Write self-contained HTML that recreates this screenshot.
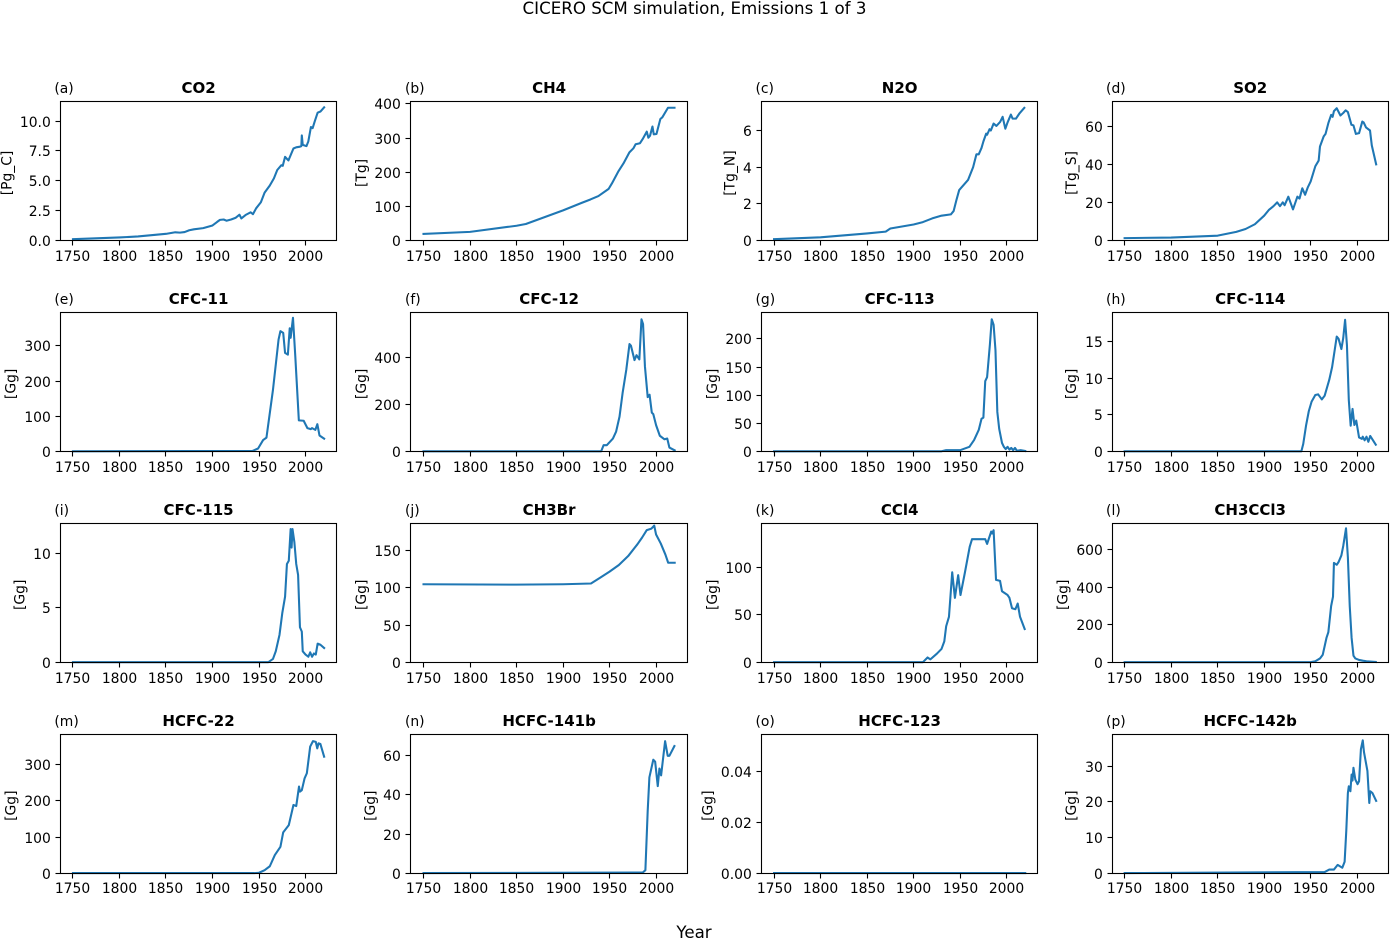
<!DOCTYPE html>
<html lang="en">
<head>
<meta charset="utf-8">
<title>CICERO SCM simulation, Emissions 1 of 3</title>
<style>
html,body{margin:0;padding:0;background:#fff;}
body{width:1390px;height:938px;overflow:hidden;}
svg{display:block;}
text{font-family:"DejaVu Sans","Liberation Sans",sans-serif;fill:#000;}
</style>
</head>
<body>
<svg id="figure" xmlns="http://www.w3.org/2000/svg" width="1390" height="938" viewBox="0 0 1390 938">
  <text x="694.5" y="14" text-anchor="middle" font-size="16.67">CICERO SCM simulation, Emissions 1 of 3</text>
  <text x="694" y="938" text-anchor="middle" font-size="16.67">Year</text>
</svg>
<script>
const xTickLabels = ["1750","1800","1850","1900","1950","2000"];

const co2Years = [1750,1800,1820,1840,1850,1860,1865,1870,1875,1880,1890,1900,1905,1908,1912,1915,1920,1925,1929,1931,1936,1941,1943.5,1947,1950,1952,1956,1961.6,1966,1969.6,1974,1975.5,1978,1981.6,1987,1990,1994,1995.5,1996,1997,2001,2003,2005.8,2007.6,2010,2013,2016,2020];
const co2Values = [0.1,0.25,0.33,0.48,0.55,0.68,0.65,0.7,0.85,0.93,1.03,1.25,1.55,1.72,1.75,1.65,1.75,1.9,2.15,1.84,2.15,2.35,2.2,2.7,3.0,3.2,4.0,4.6,5.2,5.9,6.3,6.25,7.0,6.7,7.7,7.8,7.85,7.9,8.8,8.0,7.9,8.3,9.5,9.4,10.0,10.7,10.8,11.15];
const ch4Years = [1750,1800,1850,1860,1900,1920,1929.4,1938,1949,1952.5,1959.6,1965,1971.3,1975.6,1978,1982.7,1986,1990,1991.7,1993.5,1996.1,1997.5,2000.4,2004.6,2006.7,2012.8,2019.8];
const ch4Values = [19,25,43,48,88,110,120,130,151,167,203,226,258,270,282,285,299,319,301,307,334,311,312,356,361,389,389];
const n2oYears = [1750,1800,1850,1870,1875,1900,1910,1920,1930,1940,1943,1946,1949,1958.5,1964,1967.5,1970,1973,1975,1978,1979,1981.6,1983,1986,1989,1993,1995.7,1998.6,2001,2004.6,2006.4,2010,2014,2019];
const n2oValues = [0.07,0.17,0.38,0.48,0.65,0.87,1.0,1.2,1.35,1.42,1.6,2.2,2.75,3.3,4.0,4.7,4.7,5.05,5.4,5.83,5.77,6.07,6.0,6.38,6.25,6.47,6.75,6.1,6.45,6.87,6.65,6.65,6.95,7.24];
const so2Years = [1750,1800,1850,1870,1880,1890,1900,1905,1910,1914,1917,1920,1922,1926,1931,1935.7,1938,1941,1944,1947,1950,1955,1958.6,1960,1964,1966,1969,1972,1973.6,1975,1978,1982,1985,1987.6,1990,1993.8,1996,1998.6,2002,2005.5,2007,2009.5,2013.8,2015.7,2020.4];
const so2Values = [1.2,1.5,2.5,4.5,6,8.5,13,16,18,20,18,20,18.5,23,16.3,23,22,27.4,24,28,31,39,42,49.4,54.7,56,61.7,66,65,68,69.5,65.7,67,68.4,67.5,60.8,60.5,56,56.4,62.5,62,59.4,57.8,50,40];
const cfc11Years = [1750,1943,1949,1954.4,1958,1965,1971,1973,1976,1978,1981,1983,1984,1986.5,1989,1992.8,1998,2002,2005.6,2007,2010.5,2012.7,2015,2020];
const cfc11Values = [0,1,8,32,39,175,318,342,337,280,275,350,323,380,270,88,87,66,63,66,61,77,45,36];
const cfc12Years = [1750,1941,1943.6,1947,1953.6,1957,1960.7,1964,1968,1971.4,1973,1976.8,1979,1982,1984.3,1986,1988,1991,1993,1995.4,1997,2000,2004,2009,2012,2014.3,2020];
const cfc12Values = [0,0,26,26,54,83,147,247,347,455,448,387,408,390,560,540,361,230,240,164,158,111,66,51,54,16,4];
const cfc113Years = [1750,1930,1935,1950,1960,1965,1970,1973,1975,1977,1979,1982,1984,1986,1988,1990,1992,1995,1997,1999,2001,2003,2005,2007,2009,2011,2015,2020];
const cfc113Values = [0,0,2,2,8,20,38,58,60,125,132,190,235,225,180,70,40,15,8,4,8,3,6,2,6,1,2,0.5];
const cfc114Years = [1750,1940,1942,1945,1948,1951,1955,1958,1962,1965,1970,1973,1976,1978,1980,1983,1985,1987,1989,1991,1993,1995,1997,1999,2002,2005,2006,2008,2010,2012,2014,2017,2020];
const cfc114Values = [0,0,1,3.5,5.5,6.8,7.7,7.8,7.1,7.6,9.8,11.5,14,15.7,15.4,14,15.5,18,14.5,7,3.5,5.8,3.6,4.2,1.9,1.7,2,1.5,2,1.3,2.1,1.5,0.9];
const cfc115Years = [1750,1960,1965,1968,1972,1975,1978,1980,1982,1984,1985,1986,1988,1990,1992,1994,1996,1997,2000,2003,2005,2007,2009,2011,2013,2016,2020];
const cfc115Values = [0,0,0.3,1,2.5,4.5,6,9,9.3,12.2,10.5,12.2,11,9,8,3.2,2.8,1,0.7,0.5,0.9,0.5,0.8,0.7,1.7,1.6,1.3];
const ch3brYears = [1750,1850,1900,1930,1940,1950,1960,1970,1980,1985,1990,1995,1998,2000,2005,2010,2013,2020];
const ch3brValues = [105,104.5,105,106,114,122,131,143,159,168,178,180,184,172,160,145,134,134];
const ccl4Years = [1750,1910,1915,1918,1925,1930,1933,1935,1938,1941.5,1944.4,1947.9,1950.4,1955,1960.3,1962.8,1977,1979,1983.4,1984.5,1986,1988.6,1992.9,1995,2001,2003,2005.8,2009.4,2011.9,2014.4,2019.4];
const ccl4Values = [0,0,5,3,9,14,22,38,48,95,68,92,71,94,122,130,130,125,138,136,139.5,87,86,75,71,68,57,56,62,48,35];
const ch3ccl3Years = [1750,1950,1955,1960,1963,1967,1969,1972,1974,1975,1978,1980,1983,1985,1988,1990,1992,1994,1996,1998,2002,2006,2010,2020];
const ch3ccl3Values = [0,0,5,20,40,130,160,300,350,530,520,535,570,620,715,560,300,130,35,20,12,8,5,1];
const hcfc22Years = [1750,1945,1950,1956,1961.6,1967,1973,1976,1982,1987,1990,1993,1994,1996,1999,2001.4,2005,2008,2011,2012.6,2014,2016,2020];
const hcfc22Values = [0,0,1,8,19,50,73,113,133,189,186,240,226,230,263,277,351,366,364,346,360,358,323];
const hcfc141bYears = [1750,1985.7,1988.5,1991,1992.8,1997,1999,2001.8,2003.6,2005.4,2009.7,2012.5,2014.3,2019.7];
const hcfc141bValues = [0,0.3,1.5,32,49,58,57,44.5,53.5,50,67.5,60,60,65];
const hcfc123Years = [1750,2020];
const hcfc123Values = [0,0];
const hcfc142bYears = [1750,1965,1970,1975,1979,1984,1986.5,1988.3,1990,1991,1992.7,1994,1995,1996,1998,2000.4,2002,2004,2006,2007.3,2011,2013,2014,2016.4,2020.4];
const hcfc142bValues = [0,0.3,1,1,2.3,1.5,3.2,12,22.5,24.4,23,27.7,26,29.6,26.3,25,25.8,34.8,37.3,34,28.7,19.7,23,22.5,20.3];

const co2Ticks = ["0.0","2.5","5.0","7.5","10.0"];
const ch4Ticks = ["0","100","200","300","400"];
const n2oTicks = ["0","2","4","6"];
const so2Ticks = ["0","20","40","60"];
const cfc11Ticks = ["0","100","200","300"];
const cfc12Ticks = ["0","200","400"];
const cfc113Ticks = ["0","50","100","150","200"];
const cfc114Ticks = ["0","5","10","15"];
const cfc115Ticks = ["0","5","10"];
const ch3brTicks = ["0","50","100","150"];
const ccl4Ticks = ["0","50","100"];
const ch3ccl3Ticks = ["0","200","400","600"];
const hcfc22Ticks = ["0","100","200","300"];
const hcfc141bTicks = ["0","20","40","60"];
const hcfc123Ticks = ["0.00","0.02","0.04"];
const hcfc142bTicks = ["0","10","20","30"];

const panelLetters = ["(a)","(b)","(c)","(d)","(e)","(f)","(g)","(h)","(i)","(j)","(k)","(l)","(m)","(n)","(o)","(p)"];
const panelTitles = ["CO2","CH4","N2O","SO2","CFC-11","CFC-12","CFC-113","CFC-114","CFC-115","CH3Br","CCl4","CH3CCl3","HCFC-22","HCFC-141b","HCFC-123","HCFC-142b"];
const panelUnits = ["[Pg_C]","[Tg]","[Tg_N]","[Tg_S]","[Gg]","[Gg]","[Gg]","[Gg]","[Gg]","[Gg]","[Gg]","[Gg]","[Gg]","[Gg]","[Gg]","[Gg]"];
const panelYMax = [11.63,407,7.58,73,395,589,247,19,12.72,187,146.7,741,385,71,0.0548,39];
const panelYears = [co2Years,ch4Years,n2oYears,so2Years,cfc11Years,cfc12Years,cfc113Years,cfc114Years,cfc115Years,ch3brYears,ccl4Years,ch3ccl3Years,hcfc22Years,hcfc141bYears,hcfc123Years,hcfc142bYears];
const panelValues = [co2Values,ch4Values,n2oValues,so2Values,cfc11Values,cfc12Values,cfc113Values,cfc114Values,cfc115Values,ch3brValues,ccl4Values,ch3ccl3Values,hcfc22Values,hcfc141bValues,hcfc123Values,hcfc142bValues];
const panelTicks = [co2Ticks,ch4Ticks,n2oTicks,so2Ticks,cfc11Ticks,cfc12Ticks,cfc113Ticks,cfc114Ticks,cfc115Ticks,ch3brTicks,ccl4Ticks,ch3ccl3Ticks,hcfc22Ticks,hcfc141bTicks,hcfc123Ticks,hcfc142bTicks];

const NS = "http://www.w3.org/2000/svg";
const figure = document.getElementById("figure");
const AXES_WIDTH = 276.3;
const AXES_HEIGHT = 138.8;
const X_MIN = 1736.5;
const X_MAX = 2033.5;

function axesLeft(col){ return 60.4 + col * 350.55; }
function axesTop(row){ return 101.6 + row * 210.9; }
function snap(v){ return Math.floor(v) + 0.5; }
function makeXScale(left){ return function(year){ return left + (year - X_MIN) / (X_MAX - X_MIN) * AXES_WIDTH; }; }
function makeYScale(top, yMax){ return function(value){ return top + AXES_HEIGHT - value / yMax * AXES_HEIGHT; }; }
function tickLabelWidth(label){
  let w = 0;
  for (const ch of label) { w += ch === "." ? 4.42 : 8.84; }
  return w;
}
function svgEl(tag, parent){
  const el = document.createElementNS(NS, tag);
  parent.appendChild(el);
  return el;
}
function setAttrs(el, attrs){
  for (const k in attrs) { el.setAttribute(k, attrs[k]); }
}

panelTitles.forEach(function(title, i){
  const slug = title.toLowerCase();
  const col = i % 4;
  const row = Math.floor(i / 4);
  const left = axesLeft(col);
  const top = axesTop(row);
  const bottom = top + AXES_HEIGHT;
  const frameLeft = snap(left);
  const frameRight = snap(left + AXES_WIDTH);
  const frameTop = snap(top);
  const frameBottom = snap(bottom);
  const x = makeXScale(left);
  const y = makeYScale(top, panelYMax[i]);

  const group = svgEl("g", figure);
  
  

  const line = svgEl("polyline", group);
  
  
  const pts = panelYears[i].map(function(yr, j){ return x(yr).toFixed(2) + "," + y(panelValues[i][j]).toFixed(2); });
  setAttrs(line, {points: pts.join(" "), fill: "none", stroke: "#1f77b4", "stroke-width": 2.08, "stroke-linejoin": "round", "stroke-linecap": "square"});

  const frame = svgEl("rect", group);
  
  
  setAttrs(frame, {x: frameLeft, y: frameTop, width: frameRight - frameLeft, height: frameBottom - frameTop, fill: "none", stroke: "#000", "stroke-width": 1.1});

  const xLabelBaseline = Math.floor(261.4 + 210.8 * row);
  xTickLabels.forEach(function(label){
    const px = snap(x(Number(label)));
    const tick = svgEl("line", group);
    
    
    setAttrs(tick, {x1: px, x2: px, y1: frameBottom, y2: frameBottom + 5, stroke: "#000", "stroke-width": 1.1});
    const text = svgEl("text", group);
    
    
    setAttrs(text, {x: px, y: xLabelBaseline, "text-anchor": "middle", "font-size": 13.89});
    text.textContent = label;
  });

  let widest = 0;
  panelTicks[i].forEach(function(label){
    const py = snap(y(Number(label)));
    const tick = svgEl("line", group);
    
    
    setAttrs(tick, {x1: frameLeft - 5, x2: frameLeft, y1: py, y2: py, stroke: "#000", "stroke-width": 1.1});
    const text = svgEl("text", group);
    
    
    setAttrs(text, {x: frameLeft - 9.7, y: py + 5.5, "text-anchor": "end", "font-size": 13.89});
    text.textContent = label;
    widest = Math.max(widest, tickLabelWidth(label));
  });

  const unitX = left - 9.7 - widest - 5.5 - 8;
  const unitY = top + AXES_HEIGHT / 2 + 2;
  const unit = svgEl("text", group);
  
  
  setAttrs(unit, {x: unitX + 5, y: unitY, "text-anchor": "middle", "font-size": 13.89, transform: "rotate(-90 " + (unitX + 5) + " " + unitY + ")"});
  unit.textContent = panelUnits[i];

  const heading = svgEl("text", group);
  
  
  setAttrs(heading, {x: left + AXES_WIDTH / 2, y: frameTop - 8.5, "text-anchor": "middle", "font-size": 15, "font-weight": "bold"});
  heading.textContent = title;

  const letter = svgEl("text", group);
  
  
  setAttrs(letter, {x: left - 6, y: frameTop - 8.5, "text-anchor": "start", "font-size": 13.89});
  letter.textContent = panelLetters[i];
});
</script>
</body>
</html>
